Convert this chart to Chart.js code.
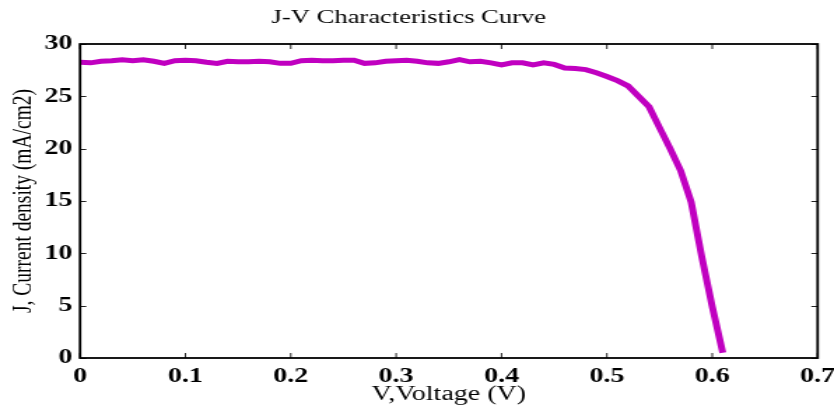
<!DOCTYPE html>
<html>
<head>
<meta charset="utf-8">
<script src="https://cdn.jsdelivr.net/npm/chart.js@4"></script>
<style>
  html, body { margin: 0; padding: 0; background: #fff; overflow: hidden; }
  #wrap { width: 834px; height: 407px; }
  /* the reference figure is stretched sideways, so is this one */
  #myChart { transform: scaleX(1.3993); transform-origin: 0 0; }
</style>
</head>
<body>
<div id="wrap"><canvas id="myChart" width="596" height="407"></canvas></div>
<script>
// J-V curve
const voltage = [0, 0.01, 0.02, 0.03, 0.04, 0.05, 0.06, 0.07, 0.08, 0.09,
  0.10, 0.11, 0.12, 0.13, 0.14, 0.15, 0.16, 0.17, 0.18, 0.19,
  0.20, 0.21, 0.22, 0.23, 0.24, 0.25, 0.26, 0.27, 0.28, 0.29,
  0.30, 0.31, 0.32, 0.33, 0.34, 0.35, 0.36, 0.37, 0.38, 0.39,
  0.40, 0.41, 0.42, 0.43, 0.44, 0.45, 0.46, 0.47, 0.48, 0.49,
  0.50, 0.51, 0.52, 0.53, 0.54, 0.55, 0.56, 0.57, 0.58, 0.59,
  0.60, 0.61];
const current = [28.25, 28.2, 28.35, 28.4, 28.5, 28.4, 28.5, 28.35, 28.15, 28.4,
  28.45, 28.4, 28.25, 28.15, 28.35, 28.3, 28.3, 28.35, 28.3, 28.15,
  28.15, 28.4, 28.45, 28.4, 28.4, 28.45, 28.45, 28.15, 28.2, 28.35,
  28.4, 28.45, 28.35, 28.2, 28.15, 28.3, 28.5, 28.3, 28.35, 28.2,
  28.0, 28.2, 28.2, 28.0, 28.2, 28.05, 27.7, 27.65, 27.55, 27.25,
  26.9, 26.5, 26.0, 25.0, 24.0, 22.0, 20.0, 17.9, 14.9, 9.7,
  4.9, 0.5];
const xTicks = [0, 0.1, 0.2, 0.3, 0.4, 0.5, 0.6, 0.7];
const yTicks = [0, 5, 10, 15, 20, 25, 30];

const serif = '"Liberation Serif", "Times New Roman", serif';

// box around the plot with inward ticks on all four sides
const boxTicks = {
  id: 'boxTicks',
  afterDraw(chart) {
    const {ctx, chartArea: a, scales: {x, y}} = chart;
    ctx.save();
    ctx.strokeStyle = '#222';
    ctx.lineWidth = 1;
    xTicks.forEach(v => {
      const px = x.getPixelForValue(v);
      ctx.beginPath();
      ctx.moveTo(px, a.bottom); ctx.lineTo(px, a.bottom - 5);
      ctx.moveTo(px, a.top); ctx.lineTo(px, a.top + 5);
      ctx.stroke();
    });
    yTicks.forEach(v => {
      const py = Math.round(y.getPixelForValue(v)) + 0.5;
      ctx.beginPath();
      ctx.moveTo(a.left, py); ctx.lineTo(a.left + 4.5, py);
      ctx.moveTo(a.right, py); ctx.lineTo(a.right - 4.5, py);
      ctx.stroke();
    });
    ctx.lineWidth = 1.8;
    ctx.strokeStyle = '#000';
    ctx.strokeRect(a.left, a.top, a.right - a.left, a.bottom - a.top);
    ctx.restore();
  }
};

new Chart(document.getElementById('myChart'), {
  type: 'line',
  data: {
    datasets: [{
      label: 'J-V',
      data: voltage.map((v, i) => ({x: v, y: current[i]})),
      borderColor: 'rgb(192, 0, 192)',
      borderWidth: 5,
      pointRadius: 0,
      tension: 0,
      clip: false
    }]
  },
  options: {
    responsive: false,
    animation: false,
    layout: {padding: {left: 0, right: 11.7, top: 0, bottom: 0}},
    plugins: {
      legend: {display: false},
      tooltip: {enabled: false},
      title: {
        display: true,
        text: 'J-V Characteristics Curve',
        color: '#000',
        font: {family: serif, size: 19, weight: 'normal', lineHeight: 1.2},
        padding: {top: 7, bottom: 14.2}
      }
    },
    scales: {
      x: {
        type: 'linear',
        min: 0, max: 0.7,
        grid: {display: false, drawTicks: false},
        border: {display: false},
        afterBuildTicks: s => { s.ticks = xTicks.map(v => ({value: v})); },
        afterFit: s => { s.height = 49; s.paddingLeft = 0; s.paddingRight = 0; },
        ticks: {
          color: '#000',
          padding: 7,
          maxRotation: 0,
          font: {family: serif, size: 20, weight: 'bold'},
          callback: v => v === 0 ? '0' : v.toFixed(1)
        },
        title: {
          display: true,
          text: 'V,Voltage (V)',
          color: '#000',
          padding: 0,
          font: {family: serif, size: 20, weight: 'normal'}
        }
      },
      y: {
        min: 0, max: 30,
        grid: {display: false, drawTicks: false},
        border: {display: false},
        afterBuildTicks: s => { s.ticks = yTicks.map(v => ({value: v})); },
        afterFit: s => { s.width = 57.2; },
        ticks: {
          color: '#000',
          padding: 5.5,
          font: {family: serif, size: 20, weight: 'bold'}
        },
        title: {
          display: true,
          text: 'J, Current density (mA/cm2)',
          color: '#000',
          padding: {top: 5, bottom: 0},
          font: {family: serif, size: 19.5, weight: 'normal'}
        }
      }
    }
  },
  plugins: [boxTicks]
});
</script>
</body>
</html>
